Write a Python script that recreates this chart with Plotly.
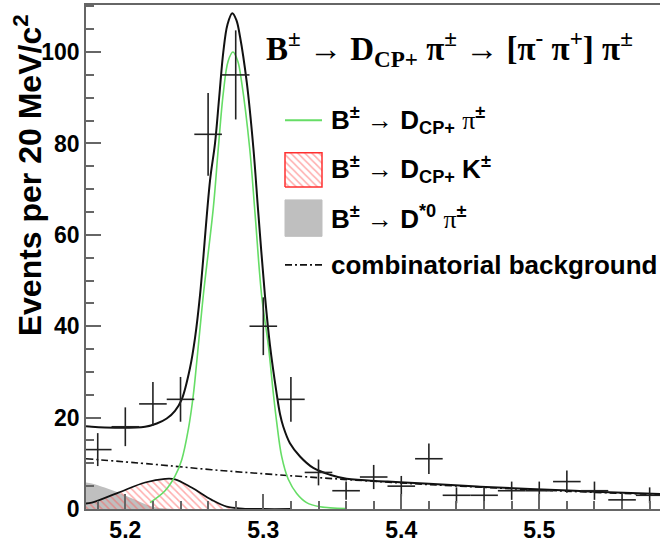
import numpy as np
import plotly.graph_objects as go

# ---------------- data ----------------
mass = [5.18, 5.20, 5.22, 5.24, 5.26, 5.28, 5.30, 5.32, 5.34, 5.36, 5.38,
        5.40, 5.42, 5.44, 5.46, 5.48, 5.50, 5.52, 5.54, 5.56, 5.58]
events = [13, 18, 23, 24, 82, 95, 40, 24, 8, 4, 7,
          5, 11, 3, 3, 4, 4, 6, 4, 2, 3]
half_bin = [0.01] * len(mass)

total_x = [5.1715, 5.1757, 5.1925, 5.2143, 5.2228, 5.2300, 5.2360, 5.2409, 5.2469,
           5.2505, 5.2541, 5.2614, 5.2650, 5.2680, 5.2710, 5.2740, 5.2775, 5.2805,
           5.2831, 5.2880, 5.2928, 5.2964, 5.3012, 5.3048, 5.3097, 5.3121, 5.3145,
           5.3193, 5.3266, 5.3362, 5.3483, 5.3604, 5.3900, 5.4200, 5.4550, 5.4933,
           5.5400, 5.5875]
total_y = [18.1, 18.0, 17.8, 18.0, 18.7, 19.8, 21.5, 24.0, 30.9,
           37.4, 46.7, 71.9, 80.0, 90.0, 100.0, 106.0, 108.5, 107.0,
           103.4, 93.4, 79.0, 64.7, 46.7, 35.9, 25.2, 20.8, 18.0,
           14.4, 11.5, 9.0, 7.5, 6.6, 6.0, 5.5, 4.9, 4.4,
           3.8, 3.3]

signal_x = [5.2179, 5.2288, 5.2360, 5.2409, 5.2457, 5.2493, 5.2517, 5.2565, 5.2638,
            5.2674, 5.2710, 5.2745, 5.2780, 5.2815, 5.2843, 5.2901, 5.2940, 5.2988,
            5.3036, 5.3073, 5.3097, 5.3133, 5.3181, 5.3242, 5.3314, 5.3411, 5.3600]
signal_y = [1.4, 4.0, 7.2, 10.8, 17.5, 25.0, 32.0, 46.7, 66.0,
            79.0, 91.0, 98.0, 100.0, 98.0, 93.4, 79.0, 64.7, 46.7,
            35.9, 25.2, 19.0, 11.5, 6.5, 3.4, 1.4, 0.5, 0.1]

comb_x = [5.1715, 5.2200, 5.2626, 5.3097, 5.3628, 5.4200, 5.4933, 5.5400, 5.5875]
comb_y = [11.0, 9.8, 8.6, 7.5, 6.4, 5.35, 4.25, 3.65, 3.15]

dk_x = [5.1715, 5.1757, 5.1950, 5.2143, 5.2288, 5.2360, 5.2480, 5.2626, 5.2735,
        5.2850, 5.3000, 5.3200]
dk_y = [1.2, 1.4, 3.6, 5.8, 6.6, 6.5, 4.7, 2.0, 0.5,
        0.1, 0.0, 0.0]

dstar_x = [5.1715, 5.1757, 5.1850, 5.1950, 5.2050, 5.2150, 5.2250, 5.2350]
dstar_y = [5.8, 5.6, 4.7, 3.6, 2.3, 1.0, 0.2, 0.0]

x_ticks = [5.2, 5.3, 5.4, 5.5]
x_ticktext = ["5.2", "5.3", "5.4", "5.5"]
y_ticks = [0, 20, 40, 60, 80, 100]
y_ticktext = ["0", "20", "40", "60", "80", "100"]

# ---------------- figure ----------------
W, H = 660, 543
ML, MR, MT, MB = 86, 0, 5, 26
PW, PH = W - ML - MR, H - MT - MB


def px_x(p):
    return (p - ML) / PW


def px_y(p):
    return (H - MB - p) / PH


AX = "#666666"
SANS = "Liberation Sans, Arial, Helvetica, sans-serif"
SERIF = "Liberation Serif, Times New Roman, serif"

fig = go.Figure()

# D*0 pi (gray)
fig.add_trace(go.Scatter(x=dstar_x, y=dstar_y, mode="lines", fill="tozeroy",
                         fillcolor="#bfbfbf", line=dict(width=0, color="#bfbfbf", shape="spline"),
                         showlegend=False, hoverinfo="skip"))
# D K (red hatched)
fig.add_trace(go.Scatter(x=dk_x, y=dk_y, mode="lines", fill="tozeroy",
                         fillcolor="rgba(0,0,0,0)",
                         fillpattern=dict(shape="\\", fgcolor="#ff5a5a", size=5, solidity=0.3),
                         line=dict(width=1.8, color="#111111", shape="spline"),
                         showlegend=False, hoverinfo="skip"))
# combinatorial
fig.add_trace(go.Scatter(x=comb_x, y=comb_y, mode="lines",
                         line=dict(width=1.6, color="#111111", dash="7px,3px,2px,3px", shape="spline"),
                         showlegend=False, hoverinfo="skip"))
# signal
fig.add_trace(go.Scatter(x=signal_x, y=signal_y, mode="lines",
                         line=dict(width=1.6, color="#66dd66", shape="spline"),
                         showlegend=False, hoverinfo="skip"))
# total
fig.add_trace(go.Scatter(x=total_x, y=total_y, mode="lines",
                         line=dict(width=2, color="#111111", shape="spline"),
                         showlegend=False, hoverinfo="skip"))
# data
fig.add_trace(go.Scatter(x=mass, y=events, mode="markers",
                         marker=dict(size=1, color="rgba(0,0,0,0)"),
                         error_y=dict(type="data", array=list(np.sqrt(events)), width=0,
                                      thickness=1.6, color="#222222"),
                         error_x=dict(type="data", array=half_bin, width=0,
                                      thickness=1.6, color="#222222"),
                         showlegend=False, hoverinfo="skip"))

# ---------------- hand-drawn legend on an overlay axis ----------------
kx0, kx1 = px_x(285), px_x(322)
row_green, row_red, row_gray, row_comb = 122, 172, 221, 269
fig.add_trace(go.Scatter(x=[kx0, kx1], y=[px_y(row_green)] * 2, xaxis="x2", yaxis="y2",
                         mode="lines", line=dict(color="#66dd66", width=2),
                         showlegend=False, hoverinfo="skip"))
ry0, ry1 = px_y(190), px_y(155)
fig.add_trace(go.Scatter(x=[kx0, kx1, kx1, kx0, kx0], y=[ry0, ry0, ry1, ry1, ry0],
                         xaxis="x2", yaxis="y2", mode="lines", fill="toself",
                         fillcolor="rgba(0,0,0,0)",
                         fillpattern=dict(shape="\\", fgcolor="#ff5a5a", size=5, solidity=0.3),
                         line=dict(color="#ff3030", width=1.5),
                         showlegend=False, hoverinfo="skip"))
gy0, gy1 = px_y(240), px_y(203)
fig.add_trace(go.Scatter(x=[kx0, kx1, kx1, kx0, kx0], y=[gy0, gy0, gy1, gy1, gy0],
                         xaxis="x2", yaxis="y2", mode="lines", fill="toself",
                         fillcolor="#bfbfbf", line=dict(color="#bfbfbf", width=1),
                         showlegend=False, hoverinfo="skip"))
fig.add_trace(go.Scatter(x=[kx0, kx1], y=[px_y(row_comb)] * 2, xaxis="x2", yaxis="y2",
                         mode="lines", line=dict(color="#111111", width=1.6, dash="7px,3px,2px,3px"),
                         showlegend=False, hoverinfo="skip"))

PI = '<span style="font-family:Liberation Serif;font-weight:normal">π</span>'
leg_font = dict(family=SANS, size=26, color="black", weight="bold")
texts = [
    (row_green, f"B<sup>±</sup> → D<sub>CP+</sub> {PI}<sup>±</sup>"),
    (row_red, "B<sup>±</sup> → D<sub>CP+</sub> K<sup>±</sup>"),
    (row_gray, f"B<sup>±</sup> → D<sup>*0</sup> {PI}<sup>±</sup>"),
    (row_comb, "combinatorial background"),
]
annotations = []
for py, t in texts:
    annotations.append(dict(x=px_x(329), y=px_y(py), xref="paper", yref="paper",
                            text=t, showarrow=False, xanchor="left", yanchor="middle",
                            font=leg_font))

annotations.append(dict(x=px_x(449), y=px_y(49), xref="paper", yref="paper",
                        text="B<sup>±</sup> → D<sub>CP+</sub> π<sup>±</sup> → [π<sup>-</sup> π<sup>+</sup>] π<sup>±</sup>",
                        showarrow=False, xanchor="center", yanchor="middle",
                        font=dict(family=SERIF, size=33, color="black", weight="bold")))

annotations.append(dict(x=px_x(28), y=px_y(178), xref="paper", yref="paper",
                        text="Events per 20 MeV/c<sup>2</sup>", textangle=-90,
                        showarrow=False, xanchor="center", yanchor="middle",
                        font=dict(family=SANS, size=32, color="black", weight="bold")))

fig.update_layout(
    width=W, height=H,
    margin=dict(l=ML, r=MR, t=MT, b=MB, pad=0),
    paper_bgcolor="white", plot_bgcolor="white",
    showlegend=False,
    annotations=annotations,
    xaxis=dict(range=[5.1715, 5.5875], tickvals=x_ticks, ticktext=x_ticktext,
               ticks="inside", ticklen=15, tickwidth=1.5, tickcolor=AX,
               showline=True, linecolor=AX, linewidth=1.5, mirror=True,
               showgrid=False, zeroline=False,
               tickfont=dict(family=SANS, size=23, color="black", weight="bold"),
               minor=dict(dtick=0.02, ticks="inside", ticklen=8, tickwidth=1.5,
                          tickcolor=AX, showgrid=False)),
    yaxis=dict(range=[0, 110.3], tickvals=y_ticks, ticktext=y_ticktext,
               ticks="inside", ticklen=15, tickwidth=1.5, tickcolor=AX,
               showline=True, linecolor=AX, linewidth=1.5, mirror=False,
               showgrid=False, zeroline=False,
               tickfont=dict(family=SANS, size=23, color="black", weight="bold"),
               minor=dict(dtick=5, ticks="inside", ticklen=8, tickwidth=1.5,
                          tickcolor=AX, showgrid=False)),
    xaxis2=dict(overlaying="x", anchor="y2", range=[0, 1], visible=False, fixedrange=True),
    yaxis2=dict(overlaying="y", anchor="x2", range=[0, 1], visible=False, fixedrange=True),
)

fig.write_html("out.html", config={"displayModeBar": False},
               post_script="document.body.style.margin='0';document.body.style.padding='0';")
